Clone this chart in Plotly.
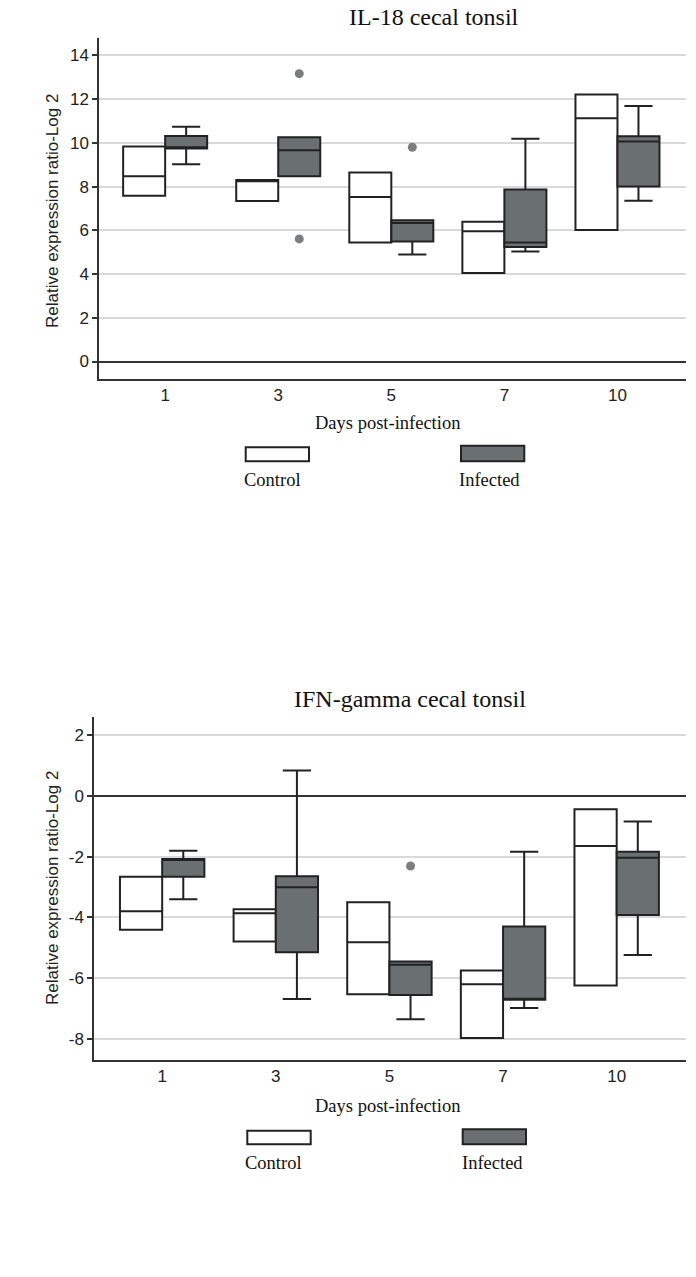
import plotly.graph_objects as go

days = ["1", "3", "5", "7", "10"]

# IL-18 cecal tonsil
il18_ctrl_q1 = [7.58, 7.34, 5.44, 4.05, 6.02]
il18_ctrl_med = [8.48, 8.25, 7.53, 5.96, 11.13]
il18_ctrl_q3 = [9.84, 8.30, 8.65, 6.39, 12.21]
il18_ctrl_lo = [7.58, 7.34, 5.44, 4.05, 6.02]
il18_ctrl_hi = [9.84, 8.30, 8.65, 6.39, 12.21]

il18_inf_q1 = [9.75, 8.48, 5.49, 5.24, 8.01]
il18_inf_med = [9.80, 9.67, 6.34, 5.44, 10.07]
il18_inf_q3 = [10.32, 10.26, 6.46, 7.87, 10.30]
il18_inf_lo = [9.02, 8.48, 4.89, 5.03, 7.35]
il18_inf_hi = [10.74, 10.26, 6.46, 10.19, 11.69]

il18_out_day = ["3", "3", "5"]
il18_out_val = [13.17, 5.61, 9.80]

il18_ticks = [0, 2, 4, 6, 8, 10, 12, 14]
il18_ticktext = ["0", "2", "4", "6", "8", "10", "12", "14"]

# IFN-gamma cecal tonsil
ifn_ctrl_q1 = [-4.41, -4.79, -6.53, -7.97, -6.24]
ifn_ctrl_med = [-3.80, -3.86, -4.82, -6.20, -1.65]
ifn_ctrl_q3 = [-2.66, -3.73, -3.50, -5.75, -0.44]
ifn_ctrl_lo = [-4.41, -4.79, -6.53, -7.97, -6.24]
ifn_ctrl_hi = [-2.66, -3.73, -3.50, -5.75, -0.44]

ifn_inf_q1 = [-2.66, -5.15, -6.55, -6.71, -3.92]
ifn_inf_med = [-2.10, -3.01, -5.56, -6.68, -2.04]
ifn_inf_q3 = [-2.08, -2.65, -5.45, -4.30, -1.84]
ifn_inf_lo = [-3.40, -6.68, -7.35, -6.98, -5.24]
ifn_inf_hi = [-1.81, 0.83, -5.45, -1.84, -0.85]

ifn_out_day = ["5"]
ifn_out_val = [-2.31]

ifn_ticks = [-8, -6, -4, -2, 0, 2]
ifn_ticktext = ["-8", "-6", "-4", "-2", "0", "2"]

W, H = 696, 1277
SERIF = "Liberation Serif, Times New Roman, serif"
SANS = "Liberation Sans, Arial, sans-serif"
LINE = "#222222"
DARK_FILL = "#6a6f72"
DOT = "#7b7e80"


def px(x):
    return x / W


def py(y):
    return 1 - y / H


def add_panel(fig, xa, ya, ctrl, inf, out_day, out_val):
    q1, med, q3, lo, hi = ctrl
    fig.add_trace(go.Box(
        x=days, q1=q1, median=med, q3=q3, lowerfence=lo, upperfence=hi,
        name="Control", offsetgroup="ctrl", xaxis=xa, yaxis=ya,
        fillcolor="white", line=dict(color=LINE, width=2),
        whiskerwidth=0.67, boxpoints=False,
    ))
    q1, med, q3, lo, hi = inf
    fig.add_trace(go.Box(
        x=days, q1=q1, median=med, q3=q3, lowerfence=lo, upperfence=hi,
        name="Infected", offsetgroup="inf", xaxis=xa, yaxis=ya,
        fillcolor=DARK_FILL, line=dict(color=LINE, width=2),
        whiskerwidth=0.67, boxpoints=False,
    ))
    # outside values, placed in the infected slot
    fig.add_trace(go.Box(
        x=out_day, y=out_val, offsetgroup="inf", xaxis=xa, yaxis=ya,
        boxpoints="all", jitter=0, pointpos=0,
        fillcolor="rgba(0,0,0,0)", line=dict(color="rgba(0,0,0,0)", width=0),
        marker=dict(color=DOT, size=9),
    ))


fig = go.Figure()
add_panel(fig, "x", "y",
          (il18_ctrl_q1, il18_ctrl_med, il18_ctrl_q3, il18_ctrl_lo, il18_ctrl_hi),
          (il18_inf_q1, il18_inf_med, il18_inf_q3, il18_inf_lo, il18_inf_hi),
          il18_out_day, il18_out_val)
add_panel(fig, "x2", "y2",
          (ifn_ctrl_q1, ifn_ctrl_med, ifn_ctrl_q3, ifn_ctrl_lo, ifn_ctrl_hi),
          (ifn_inf_q1, ifn_inf_med, ifn_inf_q3, ifn_inf_lo, ifn_inf_hi),
          ifn_out_day, ifn_out_val)

xcommon = dict(type="category", categoryorder="array", categoryarray=days,
               showline=True, linecolor="#333333", linewidth=1.5, ticks="",
               showgrid=False, zeroline=False, automargin=False,
               tickfont=dict(family=SANS, size=17, color="#222222"))
ycommon = dict(showline=True, linecolor="#333333", linewidth=1.5,
               ticks="outside", ticklen=5, tickwidth=1.5, tickcolor="#333333",
               showgrid=True, gridcolor="#d9d9d9", gridwidth=1.5,
               zeroline=True, zerolinecolor="#333333", zerolinewidth=1.5,
               automargin=False, tickmode="array",
               tickfont=dict(family=SANS, size=17, color="#222222"))

fig.update_layout(
    width=W, height=H,
    margin=dict(l=0, r=0, t=0, b=0),
    paper_bgcolor="white", plot_bgcolor="white",
    showlegend=False,
    boxmode="group", boxgap=0.257, boxgroupgap=0,
    xaxis=dict(xcommon, domain=[px(99), px(686)], range=[-0.585, 4.606], anchor="y"),
    yaxis=dict(ycommon, domain=[py(379), py(38)], range=[-0.8, 14.8], anchor="x",
               tickvals=il18_ticks, ticktext=il18_ticktext),
    xaxis2=dict(xcommon, domain=[px(94), px(686)], range=[-0.6, 4.61], anchor="y2"),
    yaxis2=dict(ycommon, domain=[py(1060), py(717)], range=[-8.69, 2.59], anchor="x2",
                tickvals=ifn_ticks, ticktext=ifn_ticktext),
)

annotations = [
    dict(text="IL-18 cecal tonsil", x=px(434), y=py(17), font=dict(family=SERIF, size=24, color="#111111")),
    dict(text="IFN-gamma cecal tonsil", x=px(410), y=py(699), font=dict(family=SERIF, size=24, color="#111111")),
    dict(text="Relative expression ratio-Log 2", x=px(52), y=py(211), textangle=-90,
         font=dict(family=SANS, size=17, color="#222222")),
    dict(text="Relative expression ratio-Log 2", x=px(52), y=py(888), textangle=-90,
         font=dict(family=SANS, size=17, color="#222222")),
    dict(text="Days post-infection", x=px(387), y=py(423), font=dict(family=SERIF, size=18.5, color="#111111")),
    dict(text="Days post-infection", x=px(387), y=py(1106), font=dict(family=SERIF, size=18.5, color="#111111")),
    dict(text="Control", x=px(272), y=py(480), font=dict(family=SERIF, size=18.5, color="#111111")),
    dict(text="Infected", x=px(490), y=py(480), font=dict(family=SERIF, size=18.5, color="#111111")),
    dict(text="Control", x=px(273), y=py(1163), font=dict(family=SERIF, size=18.5, color="#111111")),
    dict(text="Infected", x=px(492), y=py(1163), font=dict(family=SERIF, size=18.5, color="#111111")),
]
for a in annotations:
    a.update(xref="paper", yref="paper", showarrow=False, xanchor="center", yanchor="middle")
fig.update_layout(annotations=annotations)

# legend swatches under each panel
swatches = [
    (245.7, 309.0, 447.3, 461.3, "white"),
    (461.0, 524.3, 445.7, 461.3, DARK_FILL),
    (247.3, 310.7, 1130.7, 1144.3, "white"),
    (462.7, 526.0, 1129.3, 1144.3, DARK_FILL),
]
for x0, x1, y0, y1, fill in swatches:
    fig.add_shape(type="rect", xref="paper", yref="paper",
                  x0=px(x0), x1=px(x1), y0=py(y1), y1=py(y0),
                  fillcolor=fill, line=dict(color=LINE, width=2))

# drop the browser's default 8px body margin so the figure sits at the page corner
fig.write_html("out.html", config={"displayModeBar": False},
               post_script="document.body.style.margin = '0';")
